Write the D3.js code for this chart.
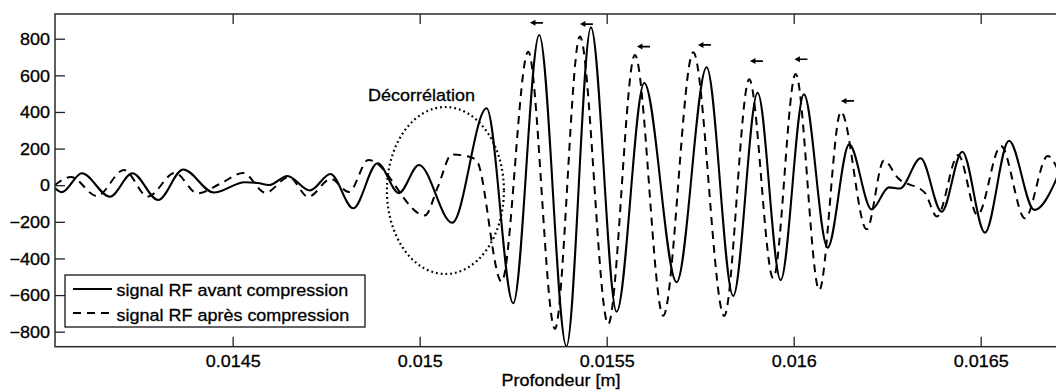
<!DOCTYPE html>
<html>
<head>
<meta charset="utf-8">
<script src="https://cdn.jsdelivr.net/npm/d3@7"></script>
<style>
  html, body { margin: 0; padding: 0; background: #fff; }
  svg { display: block; }
  text { font-family: "Liberation Sans", Arial, Helvetica, sans-serif; fill: #000; stroke: #000; stroke-width: 0.3px; }
</style>
</head>
<body>
<svg id="chart" width="1056" height="390"></svg>
<script>
// RF signal before compression: depth (m) and amplitude
const depthAvant = [0.0140247, 0.0140434, 0.0140969, 0.0141718, 0.0142319, 0.0143009, 0.0143677, 0.0144498,
  0.0145327, 0.0145675, 0.0145969, 0.0146464, 0.0147065, 0.0147613, 0.0148223, 0.0148875, 0.0149445,
  0.014998, 0.015087, 0.015179, 0.0152501, 0.0153196, 0.0153924, 0.0154579, 0.0155266, 0.0156004,
  0.015687, 0.0157672, 0.0158383, 0.0159036, 0.0159651, 0.0160274, 0.0160907, 0.0161485, 0.0162084,
  0.0162547, 0.0162841, 0.0163394, 0.0163956, 0.0164506, 0.0165113, 0.0165755, 0.0166432, 0.0167012, 0.0167173];
const signalAvant = [-15, -38, 65, -63, 65, -81, 86, -40,
  16, 12, 1, 50, -29, 61, -126, 120, -43,
  110, -205, 420, -645, 820, -880, 862, -691, 558,
  -530, 644, -605, 505, -518, 496, -341, 223, -132,
  -12, -18, 147, -145, 183, -259, 243, -135, 28, 110];

// RF signal after compression
const depthApres = [0.0140247, 0.0140675, 0.014137, 0.0142092, 0.0142734, 0.0143456, 0.0144057, 0.0144659,
  0.0145282, 0.0145875, 0.0146504, 0.014702, 0.0147627, 0.0148108, 0.0148629, 0.015014, 0.0150488,
  0.0150862, 0.0151343, 0.015153, 0.0152191, 0.0152902, 0.0153616, 0.0154284, 0.0155041, 0.0155755,
  0.0156512, 0.0157314, 0.0158143, 0.0158811, 0.0159453, 0.0160052, 0.0160683, 0.0161263, 0.016195,
  0.0162413, 0.0162787, 0.0163509, 0.016383, 0.01644, 0.0164913, 0.0165541, 0.0166183, 0.016679, 0.0167172];
const signalApres = [1, 45, -59, 83, -62, 67, -44, 7,
  67, -41, 45, -64, 34, -37, 138, -165, -8,
  168, 154, 132, -527, 729, -785, 812, -758, 711,
  -713, 726, -714, 578, -508, 607, -572, 401, -241,
  135, 39, -42, -171, 165, -163, 214, -181, 159, 28];

const seriesNames = ["signal RF avant compression", "signal RF après compression"];

// Axis ticks
const xTicks = [0.0145, 0.015, 0.0155, 0.016, 0.0165];
const xTickLabels = ["0.0145", "0.015", "0.0155", "0.016", "0.0165"];
const yTicks = [-800, -600, -400, -200, 0, 200, 400, 600, 800];
const yTickLabels = ["\u2212800", "\u2212600", "\u2212400", "\u2212200", "0", "200", "400", "600", "800"];
const xTitle = "Profondeur [m]";

// Shift annotations: arrow tips (depth, amplitude) above the compressed peaks
const shiftDepth = [0.0152948, 0.0154284, 0.0155809, 0.0157439, 0.015883, 0.016002, 0.0161263];
const shiftLevel = [887, 880, 757, 766, 678, 688, 460];

// Decorrelation zone (centre and half-axes in data units)
const zoneLabel = "Décorrélation";
const zoneCentre = [0.0150688, -29];
const zoneHalfAxes = [0.0001564, 456];

const xDomain = [0.014025, 0.016712];
const yDomain = [-882, 935];

// ---- layout ----
const plot = { left: 55, right: 1060, top: 14, bottom: 346.7 };
const fontSize = 16.5, stretch = 1.09;

const svg = d3.select("#chart");
const x = d3.scaleLinear().domain(xDomain).range([plot.left, plot.right]);
const y = d3.scaleLinear().domain(yDomain).range([plot.bottom, plot.top]);

svg.append("defs").append("clipPath").attr("id", "plotClip")
  .append("rect")
  .attr("x", plot.left).attr("y", plot.top)
  .attr("width", plot.right - plot.left).attr("height", plot.bottom - plot.top);

const body = svg.append("g").attr("clip-path", "url(#plotClip)");

const line = d3.line()
  .x(d => x(d[0]))
  .y(d => y(d[1]))
  .curve(d3.curveMonotoneX);

const avant = depthAvant.map((d, i) => [d, signalAvant[i]]);
const apres = depthApres.map((d, i) => [d, signalApres[i]]);

body.append("path").datum(apres)
  .attr("d", line)
  .attr("fill", "none").attr("stroke", "#000")
  .attr("stroke-width", 2).attr("stroke-dasharray", "8,6");

body.append("path").datum(avant)
  .attr("d", line)
  .attr("fill", "none").attr("stroke", "#000")
  .attr("stroke-width", 2.1);

// Dotted ellipse around the decorrelated region
body.append("ellipse")
  .attr("cx", x(zoneCentre[0]))
  .attr("cy", y(zoneCentre[1]))
  .attr("rx", x(zoneCentre[0] + zoneHalfAxes[0]) - x(zoneCentre[0]))
  .attr("ry", y(zoneCentre[1]) - y(zoneCentre[1] + zoneHalfAxes[1]))
  .attr("fill", "none").attr("stroke", "#000")
  .attr("stroke-width", 2.2).attr("stroke-dasharray", "1.8,3");

// Arrows pointing towards the shifted peaks
const arrowLen = 13, headLen = 5.5, headHalf = 3;
const arrows = body.append("g");
shiftDepth.forEach((d, i) => {
  const tx = x(d), ty = y(shiftLevel[i]);
  arrows.append("line")
    .attr("x1", tx + headLen - 0.5).attr("y1", ty)
    .attr("x2", tx + arrowLen).attr("y2", ty)
    .attr("stroke", "#000").attr("stroke-width", 1.7);
  arrows.append("path")
    .attr("d", `M${tx},${ty}L${tx + headLen},${ty - headHalf}L${tx + headLen},${ty + headHalf}Z`)
    .attr("fill", "#000");
});

// ---- axes ----
const tickLen = 10;
const xAxis = svg.append("g")
  .attr("transform", `translate(0,${plot.bottom})`)
  .call(d3.axisBottom(x).tickValues(xTicks).tickSizeInner(-tickLen).tickSizeOuter(0)
    .tickFormat((d, i) => xTickLabels[i]));
xAxis.selectAll("text")
  .attr("y", 0).attr("dy", 0)
  .attr("transform", `translate(0,20.5) scale(${stretch},1)`)
  .style("font-size", fontSize + "px");

const xAxisTop = svg.append("g")
  .attr("transform", `translate(0,${plot.top})`)
  .call(d3.axisTop(x).tickValues(xTicks).tickSizeInner(-tickLen).tickSizeOuter(0).tickFormat(""));

const yAxis = svg.append("g")
  .attr("transform", `translate(${plot.left},0)`)
  .call(d3.axisLeft(y).tickValues(yTicks).tickSizeInner(-tickLen).tickSizeOuter(0)
    .tickFormat((d, i) => yTickLabels[i]));
yAxis.selectAll("text")
  .attr("x", 0).attr("dy", "0.35em")
  .attr("transform", `translate(-5,0) scale(${stretch},1)`)
  .style("font-size", fontSize + "px");

svg.selectAll(".domain").remove();
svg.selectAll(".tick line").attr("stroke", "#222").attr("stroke-width", 1.3);
svg.selectAll(".tick text").attr("fill", "#000").style("font-family", "'Liberation Sans', Arial, sans-serif");

// Axes box
svg.append("rect")
  .attr("x", plot.left).attr("y", plot.top)
  .attr("width", plot.right - plot.left).attr("height", plot.bottom - plot.top)
  .attr("fill", "none").attr("stroke", "#2a2a2a").attr("stroke-width", 1.5);

// Axis title
svg.append("text")
  .attr("transform", `translate(561,385.5) scale(${stretch},1)`)
  .attr("text-anchor", "middle")
  .style("font-size", fontSize + "px")
  .text(xTitle);

// Decorrelation label
svg.append("text")
  .attr("transform", `translate(368,101) scale(${stretch},1)`)
  .style("font-size", fontSize + "px")
  .text(zoneLabel);

// ---- legend ----
const legend = svg.append("g");
legend.append("rect")
  .attr("x", 65).attr("y", 275).attr("width", 300).attr("height", 52)
  .attr("fill", "#fff").attr("stroke", "#000").attr("stroke-width", 1.2);
const legendRows = [
  { name: seriesNames[0], dash: null, cy: 289, base: 296 },
  { name: seriesNames[1], dash: "8,6", cy: 313, base: 320.5 }
];
legendRows.forEach(r => {
  legend.append("line")
    .attr("x1", 73).attr("x2", 112).attr("y1", r.cy).attr("y2", r.cy)
    .attr("stroke", "#000").attr("stroke-width", 2)
    .attr("stroke-dasharray", r.dash);
  legend.append("text")
    .attr("transform", `translate(116.5,${r.base}) scale(${stretch},1)`)
    .style("font-size", fontSize + "px")
    .text(r.name);
});
</script>
</body>
</html>
